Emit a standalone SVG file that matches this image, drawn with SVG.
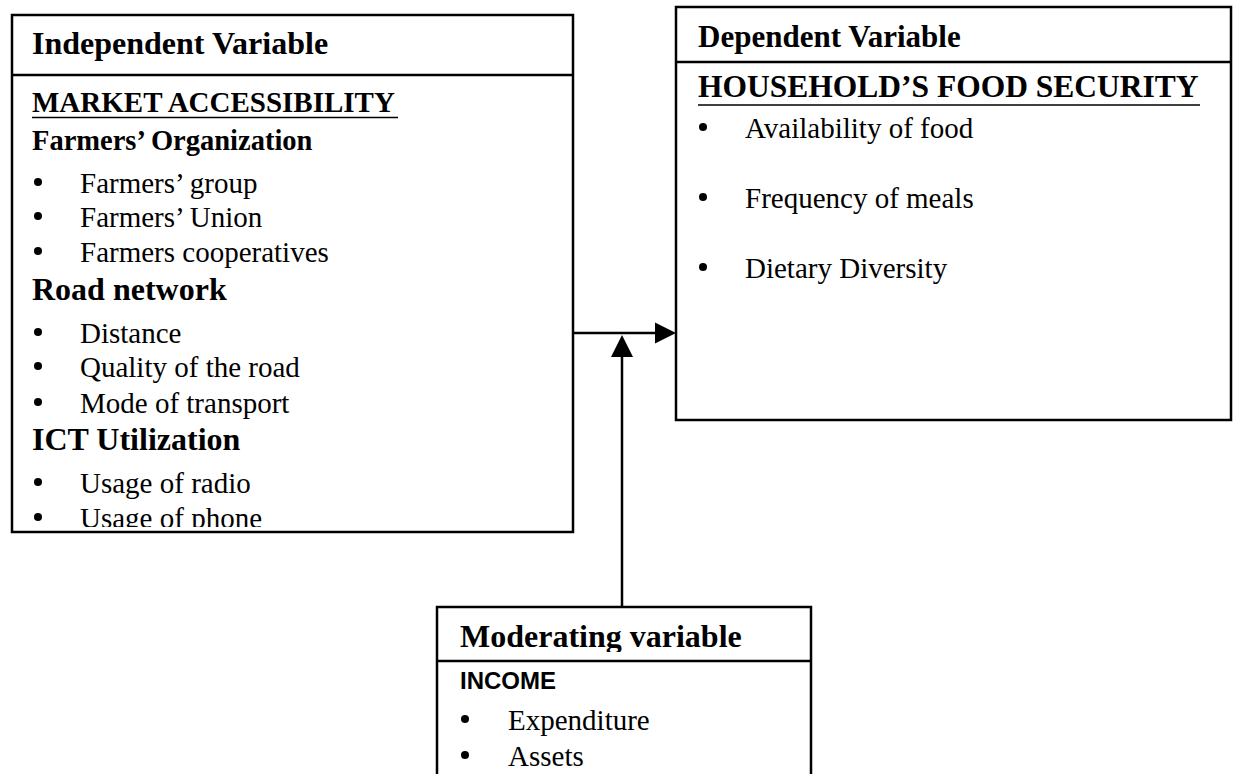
<svg xmlns="http://www.w3.org/2000/svg" width="1238" height="774" viewBox="0 0 1238 774">
<style>
.box{fill:#fff;stroke:#000;stroke-width:2.5}
.div{stroke:#000;stroke-width:2.5}
.hb{font-family:"Liberation Serif","Times New Roman",serif;font-weight:bold;fill:#000}
.tx{font-family:"Liberation Serif","Times New Roman",serif;font-size:29px;fill:#000}
.sans{font-family:"Liberation Sans",Arial,sans-serif;font-weight:bold;fill:#000}
.ul{stroke:#000;stroke-width:1.5}
.conn{stroke:#000;stroke-width:2.5;fill:none}
</style>
<defs>
<clipPath id="clipL"><rect x="12" y="76" width="561" height="451"/></clipPath>
<clipPath id="clipMh"><rect x="437" y="607" width="374" height="45"/></clipPath>
<circle id="bul" r="4" fill="#000"/>
</defs>

<g id="independent">
<rect class="box" x="12" y="15" width="561" height="517"/>
<line class="div" x1="12" y1="75" x2="573" y2="75"/>
<text class="hb" x="32" y="54" font-size="32">Independent Variable</text>
<g clip-path="url(#clipL)">
<text class="hb" x="32" y="112" font-size="29">MARKET ACCESSIBILITY</text>
<line class="ul" x1="32" y1="117.5" x2="398" y2="117.5"/>
<text class="hb" x="32" y="150" font-size="28.5">Farmers’ Organization</text>
<use href="#bul" x="38" y="182"/><text class="tx" x="80" y="193">Farmers’ group</text>
<use href="#bul" x="38" y="216"/><text class="tx" x="80" y="227">Farmers’ Union</text>
<use href="#bul" x="38" y="251"/><text class="tx" x="80" y="262">Farmers cooperatives</text>
<text class="hb" x="32" y="300" font-size="32">Road network</text>
<use href="#bul" x="38" y="332"/><text class="tx" x="80" y="343">Distance</text>
<use href="#bul" x="38" y="366"/><text class="tx" x="80" y="377">Quality of the road</text>
<use href="#bul" x="38" y="402"/><text class="tx" x="80" y="413">Mode of transport</text>
<text class="hb" x="32" y="450" font-size="32">ICT Utilization</text>
<use href="#bul" x="38" y="482"/><text class="tx" x="80" y="493">Usage of radio</text>
<use href="#bul" x="38" y="517"/><text class="tx" x="80" y="528">Usage of phone</text>
</g>
</g>

<g id="dependent">
<rect class="box" x="676" y="7" width="555" height="413"/>
<line class="div" x1="676" y1="62" x2="1231" y2="62"/>
<text class="hb" x="698" y="47" font-size="31">Dependent Variable</text>
<text class="hb" x="698" y="97" font-size="31.5">HOUSEHOLD’S FOOD SECURITY</text>
<line class="ul" x1="698" y1="105" x2="1200" y2="105"/>
<use href="#bul" x="703" y="127"/><text class="tx" x="745" y="138">Availability of food</text>
<use href="#bul" x="703" y="197"/><text class="tx" x="745" y="208">Frequency of meals</text>
<use href="#bul" x="703" y="267"/><text class="tx" x="745" y="278">Dietary Diversity</text>
</g>

<g id="moderating">
<rect class="box" x="437" y="607" width="374" height="200"/>
<line class="div" x1="437" y1="661" x2="811" y2="661"/>
<text class="hb" x="460" y="647" font-size="32" clip-path="url(#clipMh)">Moderating variable</text>
<text class="sans" x="460" y="689" font-size="24">INCOME</text>
<use href="#bul" x="465" y="719"/><text class="tx" x="508" y="730">Expenditure</text>
<use href="#bul" x="465" y="755"/><text class="tx" x="508" y="766">Assets</text>
</g>

<g id="connectors">
<line class="conn" x1="573" y1="333" x2="657" y2="333"/>
<polygon points="655,322.5 676,333 655,343.5" fill="#000"/>
<line class="conn" x1="622" y1="607" x2="622" y2="355"/>
<polygon points="611,357 622,335 633,357" fill="#000"/>
</g>
</svg>
